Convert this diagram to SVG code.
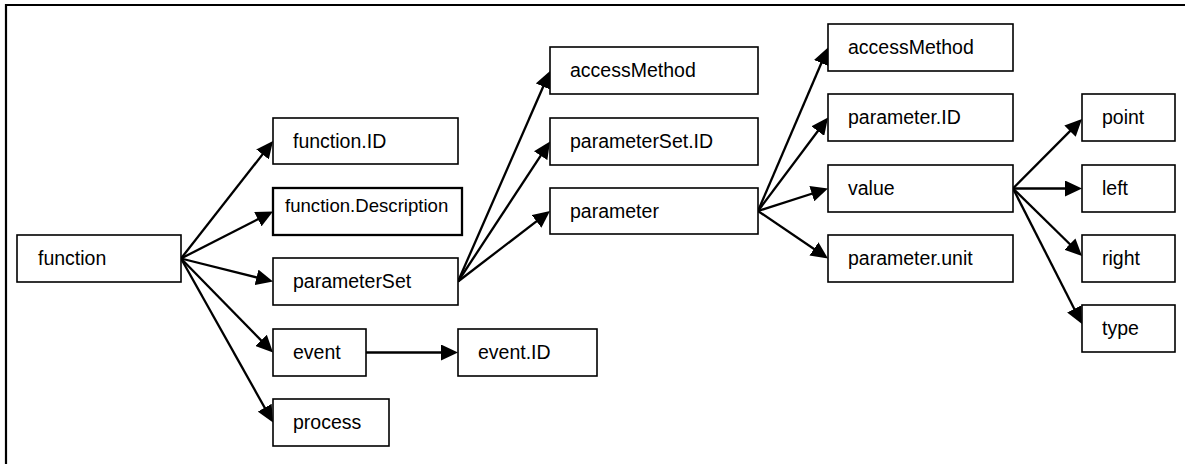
<svg xmlns="http://www.w3.org/2000/svg" width="1185" height="464" viewBox="0 0 1185 464">
<style>
.box{fill:#fff;stroke:#000;stroke-width:1.6}
.box2{fill:#fff;stroke:#000;stroke-width:2.3}
.t{font-family:"Liberation Sans",Arial,sans-serif;font-size:19.5px;fill:#000}
.ts{font-family:"Liberation Sans",Arial,sans-serif;font-size:18.6px;fill:#000}
.c{stroke:#000;stroke-width:2.3;fill:none;marker-end:url(#ah)}
</style>
<defs>
<marker id="ah" viewBox="0 0 17 16" refX="13" refY="8" markerWidth="17" markerHeight="16" markerUnits="userSpaceOnUse" orient="auto">
<path d="M0,0 L17,8 L0,16 z" fill="#000"/>
</marker>
</defs>
<rect x="0" y="0" width="1185" height="464" fill="#fff"/>
<path d="M6,464 V5 H1185" fill="none" stroke="#000" stroke-width="2.2"/>
<g id="connectors">
<line class="c" x1="181" y1="258.5" x2="270.53" y2="144.15"/>
<line class="c" x1="181" y1="258.5" x2="269.44" y2="213.32"/>
<line class="c" x1="181" y1="258.5" x2="269.12" y2="280.53"/>
<line class="c" x1="181" y1="258.5" x2="270.2" y2="349.64"/>
<line class="c" x1="181" y1="258.5" x2="271.04" y2="419.01"/>
<line class="c" x1="458" y1="281.5" x2="548.4" y2="74.67"/>
<line class="c" x1="458" y1="281.5" x2="547.8" y2="144.84"/>
<line class="c" x1="458" y1="281.5" x2="546.82" y2="213.43"/>
<line class="c" x1="366" y1="352.5" x2="454" y2="352.5"/>
<line class="c" x1="758" y1="211" x2="826.43" y2="51.18"/>
<line class="c" x1="758" y1="211" x2="825.6" y2="120.7"/>
<line class="c" x1="758" y1="211" x2="824.19" y2="189.72"/>
<line class="c" x1="758" y1="211" x2="824.69" y2="256.25"/>
<line class="c" x1="1013" y1="188.5" x2="1079.18" y2="121.84"/>
<line class="c" x1="1013" y1="188.5" x2="1078" y2="188.5"/>
<line class="c" x1="1013" y1="188.5" x2="1079.14" y2="253.2"/>
<line class="c" x1="1013" y1="188.5" x2="1080.18" y2="320.44"/>
</g>
<g id="function"><rect class="box" x="17" y="235" width="164" height="47"/><text class="t" x="38" y="265">function</text></g>
<g id="function.ID"><rect class="box" x="273" y="118" width="185" height="46"/><text class="t" x="293" y="148">function.ID</text></g>
<g id="function.Description"><rect class="box2" x="273" y="188" width="189" height="47"/><text class="ts" x="285" y="212">function.Description</text></g>
<g id="parameterSet"><rect class="box" x="273" y="258" width="185" height="47"/><text class="t" x="293" y="288">parameterSet</text></g>
<g id="event"><rect class="box" x="273" y="329" width="93" height="47"/><text class="t" x="293" y="359">event</text></g>
<g id="process"><rect class="box" x="273" y="399" width="116" height="47"/><text class="t" x="293" y="429">process</text></g>
<g id="event.ID"><rect class="box" x="458" y="329" width="139" height="47"/><text class="t" x="478" y="359">event.ID</text></g>
<g id="accessMethod1"><rect class="box" x="550" y="47" width="208" height="47"/><text class="t" x="570" y="77">accessMethod</text></g>
<g id="parameterSet.ID"><rect class="box" x="550" y="118" width="208" height="47"/><text class="t" x="570" y="148">parameterSet.ID</text></g>
<g id="parameter"><rect class="box" x="550" y="188" width="208" height="46"/><text class="t" x="570" y="218">parameter</text></g>
<g id="accessMethod2"><rect class="box" x="828" y="24" width="185" height="47"/><text class="t" x="848" y="54">accessMethod</text></g>
<g id="parameter.ID"><rect class="box" x="828" y="94" width="185" height="47"/><text class="t" x="848" y="124">parameter.ID</text></g>
<g id="value"><rect class="box" x="828" y="165" width="185" height="47"/><text class="t" x="848" y="195">value</text></g>
<g id="parameter.unit"><rect class="box" x="828" y="235" width="185" height="47"/><text class="t" x="848" y="265">parameter.unit</text></g>
<g id="point"><rect class="box" x="1082" y="94" width="93" height="47"/><text class="t" x="1102" y="124">point</text></g>
<g id="left"><rect class="box" x="1082" y="165" width="93" height="47"/><text class="t" x="1102" y="195">left</text></g>
<g id="right"><rect class="box" x="1082" y="235" width="93" height="47"/><text class="t" x="1102" y="265">right</text></g>
<g id="type"><rect class="box" x="1082" y="305" width="93" height="47"/><text class="t" x="1102" y="335">type</text></g>
</svg>
